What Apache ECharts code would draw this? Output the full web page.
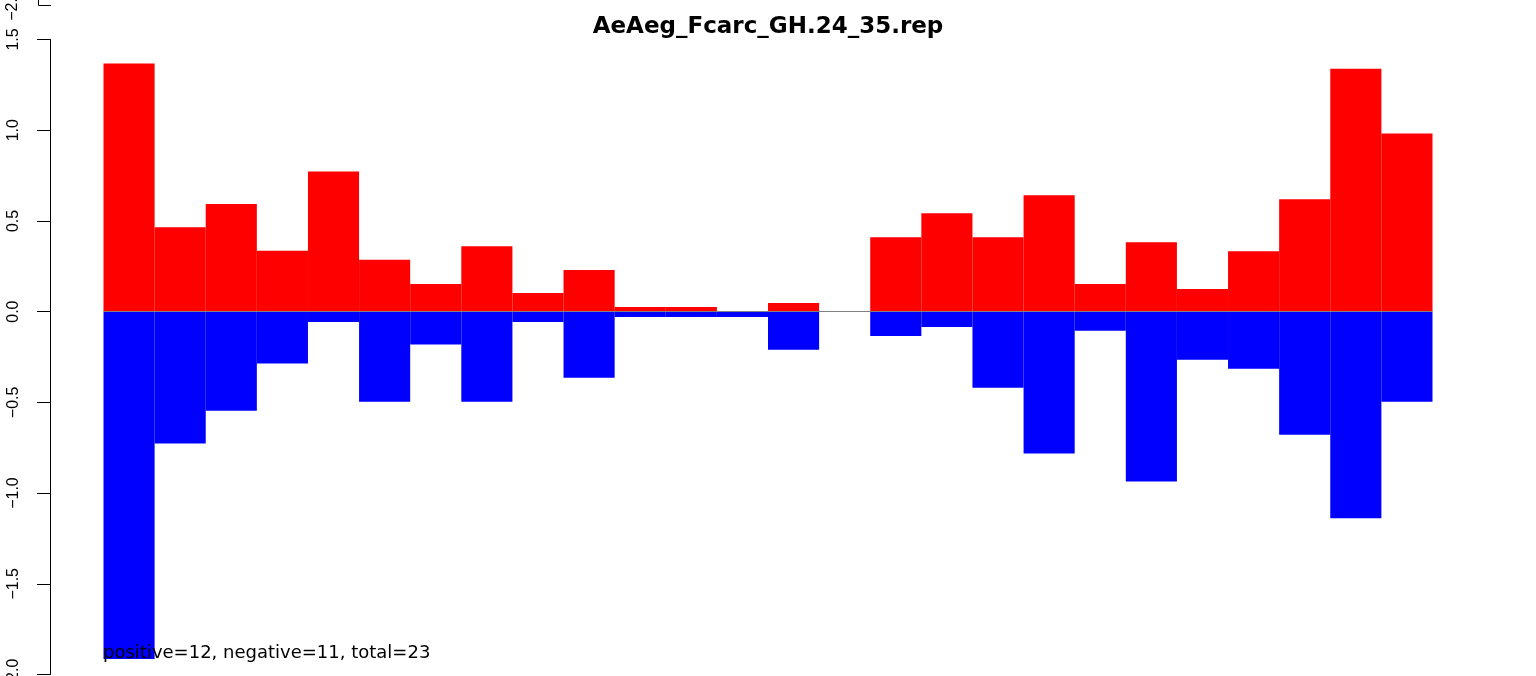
<!DOCTYPE html>
<html>
<head>
<meta charset="utf-8">
<script src="https://cdn.jsdelivr.net/npm/echarts@6/dist/echarts.min.js"></script>
<style>
html,body{margin:0;padding:0;background:#fff;overflow:hidden;}
#chart{width:1536px;height:676px;}
</style>
</head>
<body>
<div id="chart"></div>
<script>
// ---- data ----
var chartTitle = 'AeAeg_Fcarc_GH.24_35.rep';
var summaryText = 'positive=12, negative=11, total=23';
var categories = ['1','2','3','4','5','6','7','8','9','10','11','12','13','14','15','16','17','18','19','20','21','22','23','24','25','26'];
var positiveValues = [1.368, 0.465, 0.593, 0.335, 0.773, 0.286, 0.152, 0.361, 0.103, 0.229, 0.026, 0.026, 0, 0.048, 0, 0.410, 0.542, 0.410, 0.641, 0.152, 0.383, 0.125, 0.333, 0.619, 1.339, 0.982];
var negativeValues = [-1.914, -0.727, -0.546, -0.286, -0.057, -0.496, -0.181, -0.496, -0.057, -0.364, -0.029, -0.029, -0.029, -0.210, 0, -0.134, -0.084, -0.419, -0.782, -0.106, -0.936, -0.265, -0.315, -0.678, -1.139, -0.496];
var yMin = -2.0, yMax = 1.5, yStep = 0.5;
var partialTopLabel = '\u22122.0';

function fmt(v){
  return (v < 0 ? '\u2212' : '') + Math.abs(v).toFixed(1);
}
function barData(arr){
  return arr.map(function(v){
    return v === 0
      ? {value: v, itemStyle: {borderWidth: 0, color: 'rgba(0,0,0,0)'}}
      : {value: v};
  });
}

var chart = echarts.init(document.getElementById('chart'), null, {renderer:'canvas'});
chart.setOption({
  animation: false,
  backgroundColor: '#ffffff',
  title: [{
    text: chartTitle,
    left: 'center',
    top: 11,
    textStyle: {fontFamily: 'DejaVu Sans', fontWeight: 'bold', fontSize: 23, color: '#000'}
  }, {
    text: summaryText,
    left: 98,
    top: 639,
    textStyle: {fontFamily: 'DejaVu Sans', fontWeight: 'normal', fontSize: 18, color: '#000'}
  }],
  grid: {left: 103.5, right: 103.5, top: 39.5, bottom: 1.5, containLabel: false, outerBoundsMode: 'none'},
  xAxis: {
    type: 'category',
    data: categories,
    boundaryGap: true,
    show: false
  },
  yAxis: {
    type: 'value',
    min: yMin,
    max: yMax,
    interval: yStep,
    offset: 53.5,
    splitLine: {show: false},
    axisLine: {show: true, lineStyle: {color: '#000', width: 1}},
    axisTick: {show: true, length: 13, lineStyle: {color: '#000', width: 1}},
    axisLabel: {
      show: true,
      rotate: 90,
      margin: 28,
      fontFamily: 'Liberation Sans',
      fontSize: 16,
      color: '#000',
      showMinLabel: true,
      showMaxLabel: true,
      hideOverlap: false,
      formatter: fmt
    }
  },
  series: [{
    type: 'line',
    data: [],
    z: 1,
    silent: true,
    markLine: {
      silent: true,
      symbol: ['none','none'],
      label: {show: false},
      lineStyle: {color: '#808080', width: 1, type: 'solid'},
      data: [{yAxis: 0}]
    }
  }, {
    name: 'positive',
    type: 'bar',
    data: barData(positiveValues),
    z: 2,
    barWidth: '100%',
    barGap: '-100%',
    itemStyle: {color: '#FF0000', borderColor: '#FF0000', borderWidth: 1.8}
  }, {
    name: 'negative',
    type: 'bar',
    data: barData(negativeValues),
    z: 2,
    barWidth: '100%',
    barGap: '-100%',
    itemStyle: {color: '#0000FF', borderColor: '#0000FF', borderWidth: 1.8}
  }],
  graphic: [{
    type: 'text',
    x: 12.5, y: 5,
    rotation: Math.PI / 2,
    style: {text: partialTopLabel, fill: '#000', font: '16px "Liberation Sans"', align: 'center', verticalAlign: 'middle'}
  }, {
    type: 'polyline',
    shape: {points: [[38.5, 0], [38.5, 5.5], [51, 5.5]]},
    style: {stroke: '#000', lineWidth: 1, fill: null}
  }]
});
</script>
</body>
</html>
